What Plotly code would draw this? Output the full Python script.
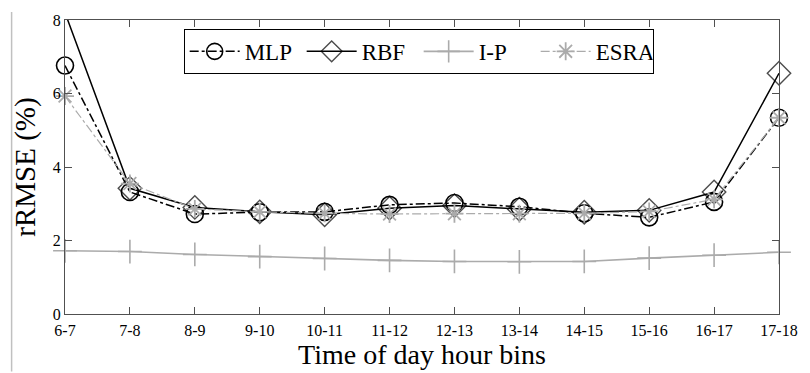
import plotly.graph_objects as go

categories = ["6-7", "7-8", "8-9", "9-10", "10-11", "11-12", "12-13", "13-14", "14-15", "15-16", "16-17", "17-18"]
mlp = [6.76, 3.32, 2.72, 2.77, 2.78, 2.97, 3.02, 2.92, 2.74, 2.63, 3.05, 5.34]
rbf = [8.2, 3.42, 2.9, 2.78, 2.7, 2.88, 2.95, 2.85, 2.77, 2.82, 3.32, 6.55]
ip = [1.72, 1.7, 1.62, 1.56, 1.51, 1.46, 1.43, 1.42, 1.43, 1.52, 1.6, 1.68]
esra = [5.93, 3.55, 2.86, 2.78, 2.74, 2.72, 2.73, 2.73, 2.74, 2.79, 3.12, 5.34]
y_ticks = [0, 2, 4, 6, 8]

FONT = "Liberation Serif"
GRAY = "#ababab"

fig = go.Figure()
fig.add_trace(go.Scatter(
    x=categories, y=mlp, name="MLP", mode="lines+markers", cliponaxis=False,
    line=dict(color="black", width=1.5, dash="dashdot"),
    marker=dict(symbol="circle-open", size=17, color="black", line=dict(width=1.6, color="black")),
))
rbf_sizes = [0 if v > 8 else 18 for v in rbf]
fig.add_trace(go.Scatter(
    x=categories, y=rbf, name="RBF", mode="lines+markers", cliponaxis=False,
    line=dict(color="black", width=1.5),
    marker=dict(symbol="diamond-open", size=rbf_sizes, color="black", line=dict(width=1.4, color="black")),
))
fig.add_trace(go.Scatter(
    x=categories, y=ip, name="I-P", mode="lines+markers", cliponaxis=False,
    line=dict(color=GRAY, width=1.6),
    marker=dict(symbol="cross-thin-open", size=17, color=GRAY, line=dict(width=1.6, color=GRAY)),
))
fig.add_trace(go.Scatter(
    x=categories, y=esra, name="ESRA", mode="lines+markers", cliponaxis=False,
    line=dict(color=GRAY, width=1.2, dash="dashdot"),
    marker=dict(symbol="asterisk-open", size=15, color=GRAY, line=dict(width=1.8, color=GRAY)),
))

W, H = 810, 373
ml, mr, mt, mb = 65, 23, 18, 58
pw, ph = W - ml - mr, H - mt - mb

fig.add_shape(type="line", xref="paper", yref="paper",
              x0=(11 - ml) / pw, x1=(11 - ml) / pw,
              y0=(H - mb - 10) / ph, y1=-mb / ph,
              line=dict(color="#c0c0c0", width=1.5))

fig.update_layout(
    width=W, height=H,
    margin=dict(l=ml, r=mr, t=mt, b=mb),
    paper_bgcolor="white", plot_bgcolor="white",
    font=dict(family=FONT, color="black", size=16),
    showlegend=True,
    legend=dict(
        orientation="h", x=(185 - ml) / pw, y=(H - mb - 27) / ph,
        xanchor="left", yanchor="top",
        bordercolor="black", borderwidth=1, bgcolor="white",
        font=dict(family=FONT, size=23, color="black"),
        itemwidth=50, entrywidth=52, entrywidthmode="pixels", tracegroupgap=0,
    ),
    xaxis=dict(
        type="category", range=[0, len(categories) - 1],
        showgrid=False, zeroline=False,
        showline=True, linecolor="#505050", linewidth=1.3, mirror="ticks",
        ticks="inside", ticklen=7, tickcolor="#505050", tickwidth=1.3,
        tickfont=dict(family=FONT, size=16, color="black"),
        ticklabelstandoff=2,
        title=dict(text="Time of day hour bins", font=dict(family=FONT, size=28, color="black"), standoff=2),
    ),
    yaxis=dict(
        range=[0, 8], tickvals=y_ticks, ticktext=[str(v) for v in y_ticks],
        showgrid=False, zeroline=False,
        showline=True, linecolor="#505050", linewidth=1.3, mirror="ticks",
        ticks="inside", ticklen=7, tickcolor="#505050", tickwidth=1.3,
        tickfont=dict(family=FONT, size=16, color="black"),
        title=dict(text="rRMSE (%)", font=dict(family=FONT, size=29, color="black"), standoff=8),
    ),
)

fig.write_html("out.html")
